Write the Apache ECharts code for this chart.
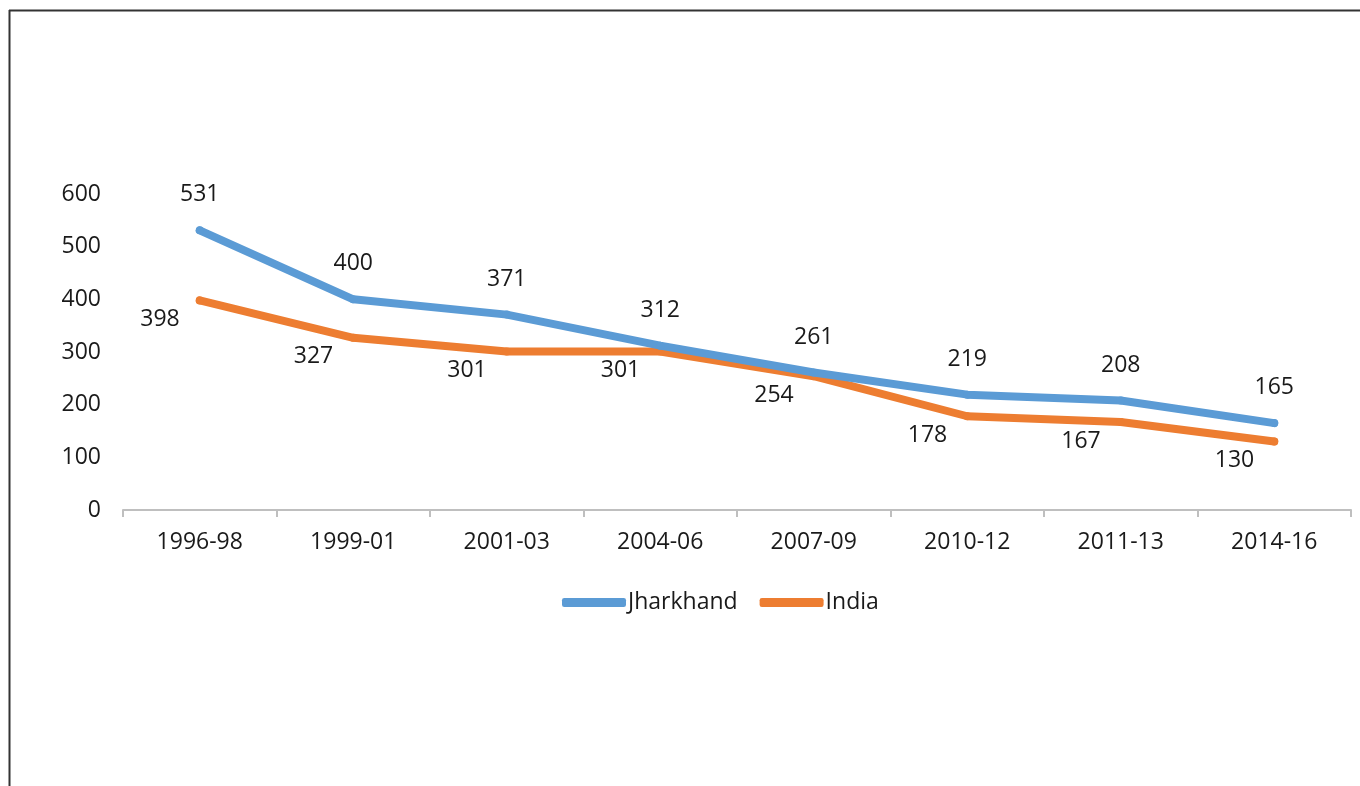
<!DOCTYPE html>
<html><head><meta charset="utf-8">
<script src="https://cdn.jsdelivr.net/npm/echarts@6/dist/echarts.min.js"></script>
<style>html,body{margin:0;padding:0;background:#fff}#c{width:1360px;height:786px}</style>
</head><body><div id="c"></div>
<script>
const categories = ['1996-98','1999-01','2001-03','2004-06','2007-09','2010-12','2011-13','2014-16'];
const jharkhand = [531, 400, 371, 312, 261, 219, 208, 165];
const india = [398, 327, 301, 301, 254, 178, 167, 130];
const yTicks = [0, 100, 200, 300, 400, 500, 600];

const FONT = 'Open Sans';
const FS = 23;
const chart = echarts.init(document.getElementById('c'));
chart.setOption({
  animation: false,
  textStyle: { fontFamily: FONT },
  graphic: [
    { type: 'line', shape: { x1: 9, y1: 10.5, x2: 1360, y2: 10.5 }, style: { stroke: '#333', lineWidth: 2 } },
    { type: 'line', shape: { x1: 9.5, y1: 10, x2: 9.5, y2: 786 }, style: { stroke: '#333', lineWidth: 2 } }
  ],
  grid: { left: 123, right: 9, top: 194, bottom: 276 },
  legend: {
    left: 557, top: 586,
    itemWidth: 64, itemHeight: 9, itemGap: 22,
    icon: 'roundRect',
    textStyle: { fontSize: FS, color: '#1a1a1a', fontFamily: FONT, padding: [0, 0, 0, -3] },
    data: ['Jharkhand', 'India']
  },
  xAxis: {
    type: 'category', data: categories, boundaryGap: true,
    axisLine: { lineStyle: { color: '#BFBFBF', width: 2 } },
    axisTick: { show: true, length: 7, lineStyle: { color: '#BFBFBF', width: 2 } },
    axisLabel: { fontSize: FS, color: '#1a1a1a', margin: 21, fontFamily: FONT }
  },
  yAxis: {
    type: 'value', min: yTicks[0], max: yTicks[yTicks.length - 1], interval: 100,
    axisLine: { show: false }, axisTick: { show: false },
    splitLine: { show: false },
    axisLabel: { fontSize: FS, color: '#1a1a1a', margin: 22, fontFamily: FONT }
  },
  series: [
    {
      name: 'Jharkhand', type: 'line', data: jharkhand,
      symbol: 'circle', symbolSize: 8,
      itemStyle: { color: '#5B9BD5' },
      lineStyle: { width: 8, color: '#5B9BD5', cap: 'round', join: 'round' },
      label: { show: true, position: 'top', distance: 20, fontSize: FS, color: '#1a1a1a', fontFamily: FONT },
      z: 3
    },
    {
      name: 'India', type: 'line', data: india,
      symbol: 'circle', symbolSize: 8,
      itemStyle: { color: '#ED7D31' },
      lineStyle: { width: 8, color: '#ED7D31', cap: 'round', join: 'round' },
      label: { show: true, position: 'left', distance: 16, offset: [0, 19], fontSize: FS, color: '#1a1a1a', fontFamily: FONT },
      z: 2
    }
  ]
});
</script>
</body></html>
